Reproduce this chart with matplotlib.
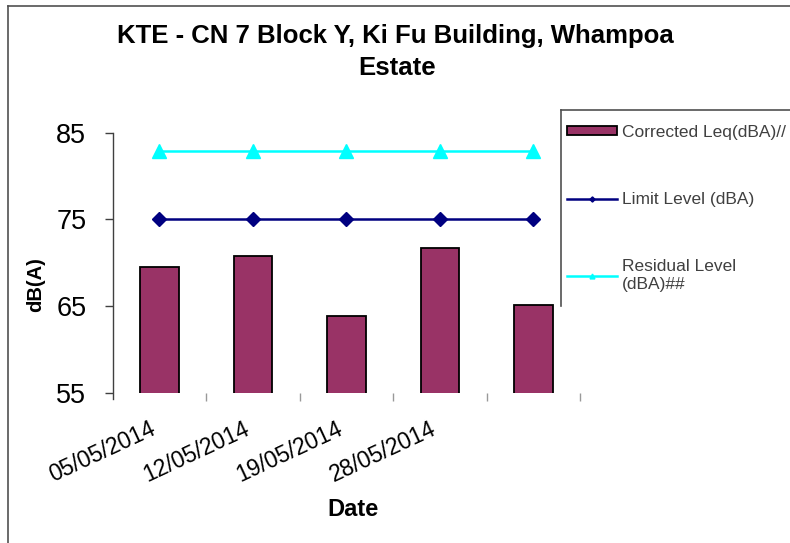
import matplotlib
matplotlib.use("Agg")
import matplotlib.pyplot as plt
from matplotlib.lines import Line2D
import numpy as np

plt.rcParams['font.family'] = ['Liberation Sans', 'DejaVu Sans']

# ---- data ----
dates = ["05/05/2014", "12/05/2014", "19/05/2014", "28/05/2014", ""]
corrected_leq = [69.5, 70.8, 63.8, 71.7, 65.1]
limit_level = [75, 75, 75, 75, 75]
residual_level = [82.9, 82.9, 82.9, 82.9, 82.9]
y_ticks = [55, 65, 75, 85]

W, H = 790, 543
fig = plt.figure(figsize=(W / 100, H / 100), dpi=100)
fig.patch.set_facecolor('white')

# axes placement in pixels
ax_l, ax_r, ax_t, ax_b = 112.7, 580.2, 132.7, 392.7
ax = fig.add_axes([ax_l / W, 1 - ax_b / H, (ax_r - ax_l) / W, (ax_b - ax_t) / H])

x = np.arange(len(dates))
bars = ax.bar(x, corrected_leq, width=0.41, bottom=0, color='#993366',
              edgecolor='black', linewidth=1.3, label='Corrected Leq(dBA)//', zorder=2)
l1, = ax.plot(x, limit_level, color='#000080', linewidth=1.8, marker='D',
              markersize=7.5, label='Limit Level (dBA)', zorder=3)
l2, = ax.plot(x, residual_level, color='#00FFFF', linewidth=1.8, marker='^',
              markersize=10, label='Residual Level\n(dBA)##', zorder=3)

ax.set_xlim(-0.5, len(dates) - 0.5)
ax.set_ylim(55, 85)

for s in ['top', 'right', 'bottom']:
    ax.spines[s].set_visible(False)
ax.spines['left'].set_color('#404040')
ax.spines['left'].set_linewidth(1.0)
ax.spines['left'].set_bounds(54.3, 85)

ax.set_yticks(y_ticks)
ax.set_yticklabels([str(v) for v in y_ticks])
ax.tick_params(axis='y', direction='out', length=6, width=1.0, color='#404040',
               labelsize=19.5, pad=13)

# category boundaries as major ticks, labels on minor ticks at centres
ax.set_xticks(np.arange(0.5, len(dates), 1.0))
ax.set_xticklabels([])
ax.tick_params(axis='x', which='major', direction='out', length=6, width=1.0,
               color='#999999')
ax.set_xticks(x, minor=True)
ax.set_xticklabels(dates, minor=True, rotation=25, ha='right', va='top',
                   fontsize=16.5, rotation_mode='default')
ax.tick_params(axis='x', which='minor', length=0, pad=18)

fig.text(36 / W, 1 - 285 / H, 'dB(A)', rotation=90, fontsize=14.5,
         fontweight='bold', ha='center', va='center')
fig.text(353 / W, 1 - 510 / H, 'Date', fontsize=17, fontweight='bold',
         ha='center', va='center')

fig.text(395 / W, 1 - 36 / H, 'KTE - CN 7 Block Y, Ki Fu Building, Whampoa',
         fontsize=18.5, fontweight='bold', ha='center', va='center')
fig.text(397 / W, 1 - 68 / H, 'Estate', fontsize=18.5, fontweight='bold',
         ha='center', va='center')

leg = ax.legend(handles=[bars, l1, l2],
                loc='upper left', bbox_to_anchor=(567 / W, 1 - 125 / H),
                bbox_transform=fig.transFigure, frameon=False, fontsize=12.5,
                handlelength=2.9, handleheight=0.45, handletextpad=0.25,
                labelspacing=3.0, markerscale=0.35, borderaxespad=0,
                borderpad=0)
for t in leg.get_texts():
    t.set_color('#404040')

# chart outer frame and legend frame (decoration)
frame_kw = dict(transform=fig.transFigure, color='#505050', linewidth=1.2)
fig.add_artist(Line2D([8 / W, 1], [1 - 6 / H, 1 - 6 / H], **frame_kw))
fig.add_artist(Line2D([8 / W, 8 / W], [1 - 6 / H, 0], **frame_kw))
fig.add_artist(Line2D([561 / W, 1], [1 - 110 / H, 1 - 110 / H], **frame_kw))
fig.add_artist(Line2D([561 / W, 561 / W], [1 - 110 / H, 1 - 306 / H], **frame_kw))

fig.savefig('out.png', dpi=100)
